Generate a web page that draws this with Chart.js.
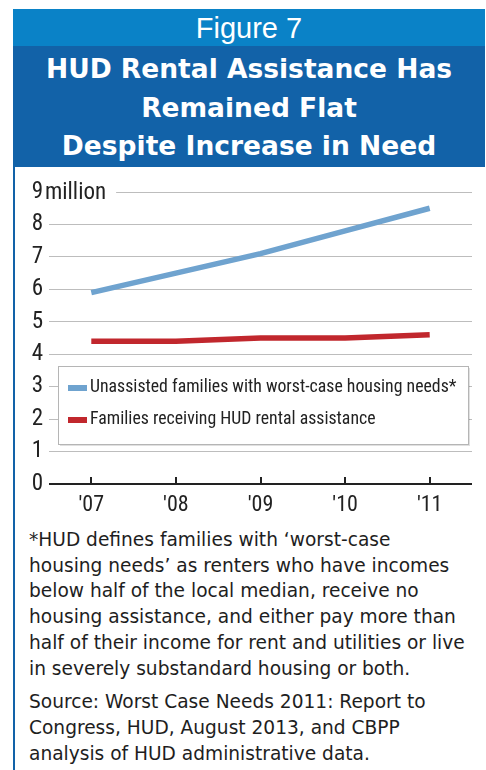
<!DOCTYPE html>
<html>
<head>
<meta charset="utf-8">
<script src="https://cdn.jsdelivr.net/npm/chart.js@4.4.1/dist/chart.umd.min.js"></script>
<style>
  html, body { margin: 0; padding: 0; background: #fff; }
  body { width: 486px; height: 770px; position: relative; overflow: hidden; font-family: "Liberation Sans", Arial, sans-serif; }
  .band1 { position: absolute; left: 13px; top: 9px; width: 472px; height: 37px; background: #0a82c7; color: #fff;
           text-align: center; font-size: 29px; line-height: 38px; }
  .band2 { position: absolute; left: 13px; top: 46px; width: 472px; height: 121px; background: #1262a8; color: #fff;
           text-align: center; font-family: "DejaVu Sans", sans-serif; font-size: 26.5px; font-weight: bold;
           line-height: 38.5px; padding-top: 4px; box-sizing: border-box; }
  .rule { position: absolute; left: 13px; top: 167px; width: 2px; height: 603px; background: #1262a8; }
  .wrap { position: absolute; left: 16px; top: 170px; }
  .note { position: absolute; left: 29px; top: 527px; color: #1e1e1e; font-family: "DejaVu Sans", sans-serif;
          font-size: 18.6px; line-height: 25.7px; white-space: nowrap; }
  .note p { margin: 0 0 8px 0; }
</style>
</head>
<body>
<div class="band1">Figure 7</div>
<div class="band2">HUD Rental Assistance Has<br>Remained Flat<br>Despite Increase in Need</div>
<div class="rule"></div>
<div class="wrap"><canvas id="chart1" width="470" height="345"></canvas></div>
<div class="note">
  <p>*HUD defines families with ‘worst-case<br>housing needs’ as renters who have incomes<br>below half of the local median, receive no<br>housing assistance, and either pay more than<br>half of their income for rent and utilities or live<br>in severely substandard housing or both.</p>
  <p>Source: Worst Case Needs 2011: Report to<br>Congress, HUD, August 2013, and CBPP<br>analysis of HUD administrative data.</p>
</div>
<script>
const years = ["'07", "'08", "'09", "'10", "'11"];
const unassisted = [5.9, 6.5, 7.1, 7.8, 8.5];
const receiving = [4.4, 4.4, 4.5, 4.5, 4.6];
const yTicks = [0, 1, 2, 3, 4, 5, 6, 7, 8, 9];

const narrow = '"Liberation Sans Narrow", "Roboto Condensed", "DejaVu Sans Condensed", sans-serif';

// draws the tick marks, the "million" unit and the boxed legend
const overlay = {
    id: 'overlay',
    beforeDatasetsDraw(chart) {
        const ctx = chart.ctx;
        const x = chart.scales.x, y = chart.scales.y;
        const y0 = y.getPixelForValue(0);
        ctx.save();
        ctx.strokeStyle = '#222';
        ctx.lineWidth = 2;
        years.forEach((_, i) => {
            const px = Math.round(x.getPixelForValue(i));
            ctx.beginPath();
            ctx.moveTo(px, y0 - 7);
            ctx.lineTo(px, y0);
            ctx.stroke();
        });
        // top gridline starts after the unit label
        ctx.font = '23px ' + narrow;
        ctx.fillStyle = '#222';
        ctx.textBaseline = 'middle';
        const y9 = y.getPixelForValue(9);
        const lx = y.right - 4;
        ctx.fillText('million', lx, y9 + 1);
        const w = ctx.measureText('million').width;
        ctx.strokeStyle = '#bdbdbd';
        ctx.lineWidth = 1;
        ctx.beginPath();
        ctx.moveTo(lx + w + 10, Math.round(y9) + 0.5);
        ctx.lineTo(chart.chartArea.right, Math.round(y9) + 0.5);
        ctx.stroke();
        ctx.restore();
    },
    afterDraw(chart) {
        const ctx = chart.ctx;
        const bx = 42, by = 196, bw = 410, bh = 78;
        ctx.save();
        ctx.fillStyle = 'rgba(0,0,0,0.12)';
        ctx.fillRect(bx + 2, by + 2, bw, bh);
        ctx.fillStyle = '#fff';
        ctx.fillRect(bx, by, bw, bh);
        ctx.strokeStyle = '#b5b5b5';
        ctx.lineWidth = 1;
        ctx.strokeRect(bx + 0.5, by + 0.5, bw, bh);
        // size the legend font so the longer label fills the box like the original
        ctx.font = '20px ' + narrow;
        const longest = Math.max(...chart.data.datasets.map(d => ctx.measureText(d.label).width));
        const size = Math.min(22, 20 * 366 / longest);
        ctx.font = size.toFixed(1) + 'px ' + narrow;
        ctx.textBaseline = 'middle';
        chart.data.datasets.forEach((ds, i) => {
            const ry = 218 + i * 32;
            ctx.fillStyle = ds.borderColor;
            ctx.fillRect(52, ry - 3, 19, 6);
            ctx.fillStyle = '#222';
            ctx.fillText(ds.label, 74, ry);
        });
        ctx.restore();
    }
};

new Chart("chart1", {
    type: "line",
    data: {
        labels: years,
        datasets: [{
            label: "Unassisted families with worst-case housing needs*",
            data: unassisted,
            borderColor: "#6fa3cf",
            borderWidth: 5.5,
            tension: 0,
            pointRadius: 0,
            fill: false
        }, {
            label: "Families receiving HUD rental assistance",
            data: receiving,
            borderColor: "#c1272d",
            borderWidth: 5.5,
            tension: 0,
            pointRadius: 0,
            fill: false
        }]
    },
    options: {
        responsive: false,
        animation: false,
        layout: { padding: { top: 22, right: 14, bottom: 0, left: 0 } },
        plugins: {
            legend: { display: false },
            tooltip: { enabled: false }
        },
        scales: {
            x: {
                offset: true,
                grid: { display: false, drawTicks: false },
                border: { display: false },
                afterFit: (s) => { s.height = 31; },
                ticks: { color: '#222', padding: 8, font: { family: narrow, size: 22 } }
            },
            y: {
                min: 0,
                max: 9,
                afterBuildTicks: (s) => { s.ticks = yTicks.map(v => ({ value: v })); },
                afterFit: (s) => { s.width = 33; },
                border: { display: false },
                grid: {
                    drawTicks: false,
                    color: (c) => c.tick.value === 0 ? '#222' : (c.tick.value === 9 ? 'rgba(0,0,0,0)' : '#bdbdbd'),
                    lineWidth: (c) => c.tick.value === 0 ? 2 : 1
                },
                ticks: { color: '#222', padding: 6, font: { family: narrow, size: 23 } }
            }
        }
    },
    plugins: [overlay]
});
</script>
</body>
</html>
